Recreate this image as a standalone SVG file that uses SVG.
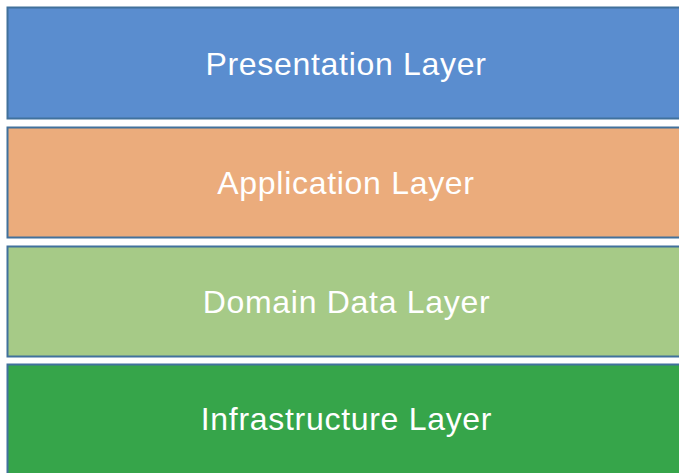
<svg xmlns="http://www.w3.org/2000/svg" width="679" height="473" viewBox="0 0 679 473">
  <style>
    .layer { stroke: #41719C; stroke-width: 2; }
    .label { font-family: "Liberation Sans", Arial, sans-serif; font-size: 32px; letter-spacing: 0.7px; fill: #FFFFFF; text-anchor: middle; dominant-baseline: central; }
  </style>
  <rect width="679" height="473" fill="#FFFFFF"/>
  <g id="presentation">
    <rect class="layer" x="7.5" y="7.5" width="690" height="111" fill="#5A8DCF"/>
    <text class="label" x="346" y="64">Presentation Layer</text>
  </g>
  <g id="application">
    <rect class="layer" x="7.5" y="127.5" width="690" height="110" fill="#EBAC7C"/>
    <text class="label" x="346" y="183">Application Layer</text>
  </g>
  <g id="domain-data">
    <rect class="layer" x="7.5" y="246.5" width="690" height="110" fill="#A6CA87"/>
    <text class="label" x="346.5" y="302">Domain Data Layer</text>
  </g>
  <g id="infrastructure">
    <rect class="layer" x="7.5" y="364.5" width="690" height="130" fill="#36A54A"/>
    <text class="label" x="346.5" y="419">Infrastructure Layer</text>
  </g>
  <g id="connectors"/>
</svg>
